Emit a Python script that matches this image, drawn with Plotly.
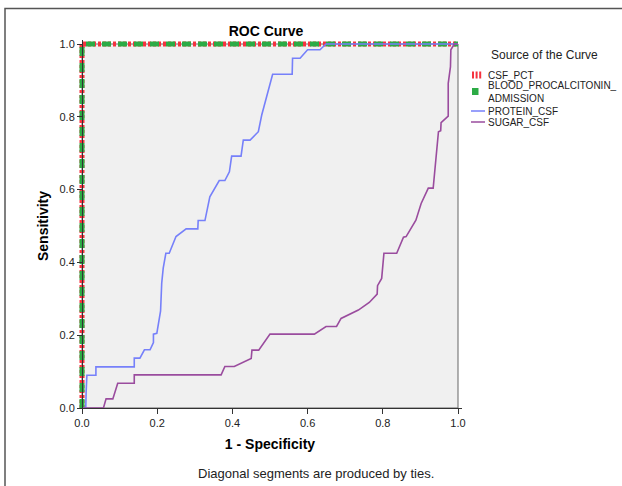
import plotly.graph_objects as go

# ---- data ----
csf_pct_fpr = [0.0, 0.0, 1.0]
csf_pct_tpr = [0.0, 1.0, 1.0]
blood_fpr = [0.0, 0.0, 1.0]
blood_tpr = [0.0, 1.0, 1.0]

protein_fpr = [0.0, 0.01, 0.011, 0.013, 0.037, 0.037, 0.139, 0.139, 0.154, 0.166, 0.181,
               0.19, 0.19, 0.199, 0.209, 0.212, 0.216, 0.223, 0.232, 0.241, 0.25, 0.277,
               0.308, 0.309, 0.327, 0.34, 0.365, 0.38, 0.392, 0.398, 0.423, 0.429, 0.447,
               0.469, 0.478, 0.507, 0.559, 0.56, 0.58, 0.6, 0.633, 0.649, 1.0]
protein_tpr = [0.0, 0.0, 0.044, 0.09, 0.09, 0.113, 0.113, 0.137, 0.137, 0.16, 0.16,
               0.18, 0.203, 0.205, 0.267, 0.343, 0.384, 0.425, 0.425, 0.448, 0.471, 0.492,
               0.492, 0.515, 0.515, 0.58, 0.625, 0.625, 0.649, 0.692, 0.692, 0.736, 0.736,
               0.759, 0.805, 0.917, 0.917, 0.961, 0.961, 0.984, 0.984, 1.0, 1.0]

sugar_fpr = [0.0, 0.057, 0.064, 0.082, 0.095, 0.139, 0.139, 0.37, 0.38, 0.405, 0.45, 0.452,
             0.47, 0.5, 0.618, 0.649, 0.677, 0.689, 0.735, 0.764, 0.785, 0.786, 0.797,
             0.803, 0.837, 0.855, 0.862, 0.888, 0.902, 0.921, 0.934, 0.948, 0.954, 0.955,
             0.974, 0.974, 0.98, 0.981, 0.99, 1.0]
sugar_tpr = [0.0, 0.0, 0.025, 0.025, 0.068, 0.068, 0.091, 0.091, 0.114, 0.114, 0.136, 0.159,
             0.159, 0.203, 0.203, 0.224, 0.224, 0.246, 0.269, 0.29, 0.313, 0.336, 0.356,
             0.425, 0.425, 0.469, 0.471, 0.516, 0.562, 0.604, 0.604, 0.759, 0.762, 0.784,
             0.802, 0.892, 0.938, 0.984, 1.0, 1.0]

series_names = ["CSF_PCT", "BLOOD_PROCALCITONIN_<br>ADMISSION", "PROTEIN_CSF", "SUGAR_CSF"]
series_colors = ["#f5333f", "#2cab45", "#7680fa", "#9a4c9e"]

x_ticks = [0.0, 0.2, 0.4, 0.6, 0.8, 1.0]
y_ticks = [0.0, 0.2, 0.4, 0.6, 0.8, 1.0]

FONT = "Liberation Sans, Arial, sans-serif"

# pixel geometry of the 0..1 square and a small pad so thick edge lines are not clipped
PX_L, PX_R, PX_T, PX_B = 82, 458, 44, 408
PAD = 4
W, H = 622, 486
plot_w = (PX_R - PX_L) + 2 * PAD
plot_h = (PX_B - PX_T) + 2 * PAD
ex = PAD / (PX_R - PX_L)
ey = PAD / (PX_B - PX_T)


def px_x(p):  # pixel x -> paper x
    return (p - (PX_L - PAD)) / plot_w


def px_y(p):  # pixel y -> paper y
    return ((PX_B + PAD) - p) / plot_h


fig = go.Figure()
fig.add_trace(go.Scatter(x=csf_pct_fpr, y=csf_pct_tpr, mode="lines", name=series_names[0],
                         line=dict(color=series_colors[0], width=5, dash="3px,2px")))
fig.add_trace(go.Scatter(x=blood_fpr, y=blood_tpr, mode="lines", name=series_names[1],
                         line=dict(color=series_colors[1], width=5, dash="9px,7px")))
fig.add_trace(go.Scatter(x=protein_fpr, y=protein_tpr, mode="lines", name=series_names[2],
                         line=dict(color=series_colors[2], width=1.6)))
fig.add_trace(go.Scatter(x=sugar_fpr, y=sugar_tpr, mode="lines", name=series_names[3],
                         line=dict(color=series_colors[3], width=1.6)))

fig.update_layout(
    width=W, height=H,
    margin=dict(l=PX_L - PAD, r=W - PX_R - PAD, t=PX_T - PAD, b=H - PX_B - PAD,
                autoexpand=False),
    paper_bgcolor="white", plot_bgcolor="white",
    font=dict(family=FONT, size=11, color="black"),
    title=dict(text="<b>ROC Curve</b>", x=266 / W, xanchor="center",
               y=1 - 31 / H, yanchor="middle", font=dict(size=14, family=FONT)),
    showlegend=False,
)
fig.update_xaxes(range=[-ex, 1 + ex], tickvals=x_ticks,
                 ticktext=[f"{v:.1f}" for v in x_ticks],
                 anchor="free", position=px_y(PX_B),
                 ticks="outside", ticklen=5, tickcolor="#333", showgrid=False,
                 zeroline=False, showline=True, linecolor="#333", linewidth=1,
                 title=dict(text="<b>1 - Specificity</b>", font=dict(size=14, family=FONT),
                            standoff=10),
                 tickfont=dict(size=11, color="#222"))
fig.update_yaxes(range=[-ey, 1 + ey], tickvals=y_ticks,
                 ticktext=[f"{v:.1f}" for v in y_ticks],
                 anchor="free", position=px_x(PX_L),
                 ticks="outside", ticklen=5, tickcolor="#333", showgrid=False,
                 zeroline=False, showline=True, linecolor="#333", linewidth=1,
                 title=dict(text="<b>Sensitivity</b>", font=dict(size=14, family=FONT),
                            standoff=6),
                 tickfont=dict(size=11, color="#222"))

# plot background exactly over the 0..1 square, plus its top/right border
fig.add_shape(type="rect", xref="x", yref="y", x0=0, x1=1, y0=0, y1=1,
              fillcolor="#f0f0f0", line=dict(color="#666", width=1), layer="below")

# ---- legend (drawn by hand to match the compact SPSS legend) ----
fig.add_annotation(text="Source of the Curve", xref="paper", yref="paper",
                   x=px_x(489), y=px_y(55), xanchor="left", yanchor="middle",
                   showarrow=False, font=dict(size=12, family=FONT, color="#222"))
legend_y = [75, 91.5, 111, 122]
for i, (name, col, ly) in enumerate(zip(series_names, series_colors, legend_y)):
    fig.add_annotation(text=name, xref="paper", yref="paper", x=px_x(486), y=px_y(ly),
                       xanchor="left", yanchor="middle", align="left", showarrow=False,
                       font=dict(size=10, family=FONT, color="#222"))
    if i == 0:
        for k in range(3):
            fig.add_shape(type="rect", xref="paper", yref="paper",
                          x0=px_x(472 + 3.6 * k), x1=px_x(474 + 3.6 * k),
                          y0=px_y(ly + 3.5), y1=px_y(ly - 3.5),
                          fillcolor=col, line=dict(width=0))
    elif i == 1:
        fig.add_shape(type="rect", xref="paper", yref="paper",
                      x0=px_x(472), x1=px_x(478.5), y0=px_y(95), y1=px_y(88),
                      fillcolor=col, line=dict(width=0))
    else:
        fig.add_shape(type="line", xref="paper", yref="paper",
                      x0=px_x(471), x1=px_x(485), y0=px_y(ly), y1=px_y(ly),
                      line=dict(color=col, width=1.5))

fig.add_annotation(text="Diagonal segments are produced by ties.", xref="paper",
                   yref="paper", x=px_x(316), y=px_y(473), xanchor="center",
                   yanchor="middle", showarrow=False,
                   font=dict(size=13, family=FONT, color="#222"))
# outer frame of the chart image
fig.add_shape(type="rect", xref="paper", yref="paper",
              x0=px_x(5), x1=px_x(640), y0=px_y(520), y1=px_y(8.5),
              line=dict(color="#555", width=1.5), fillcolor="rgba(0,0,0,0)", layer="below")

fig.write_html("out.html")
